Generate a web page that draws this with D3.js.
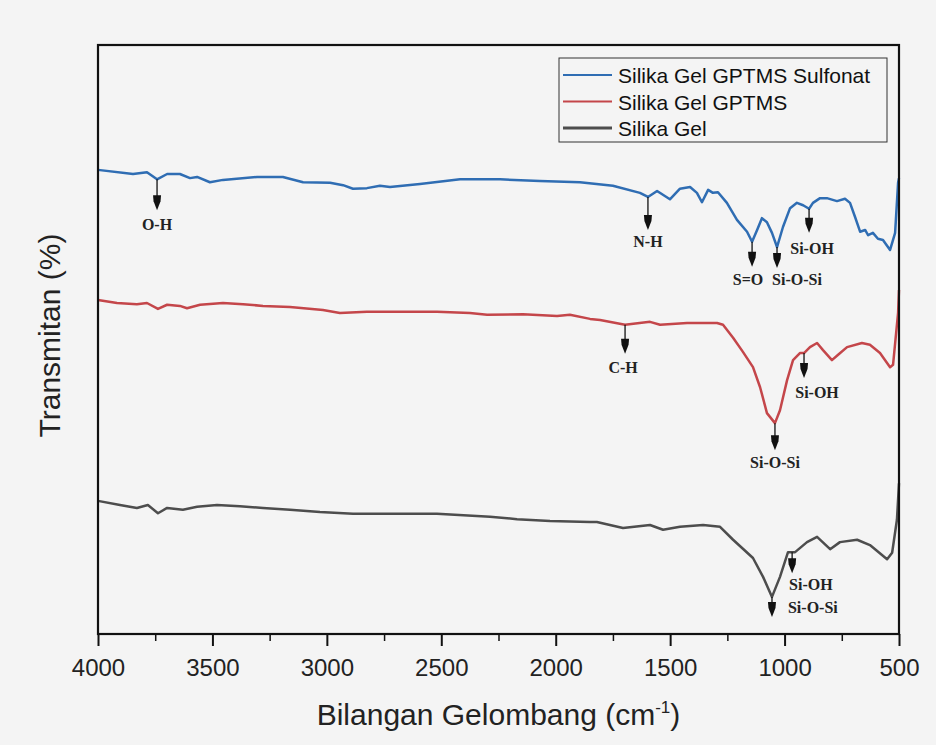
<!doctype html>
<html>
<head>
<meta charset="utf-8">
<style>
  body { margin: 0; background: #f4f4f4; }
  svg { display: block; }
  .tick text { font-family: "Liberation Sans", Arial, sans-serif; font-size: 24px; fill: #222; }
  .annot { font-family: "Liberation Serif", "Times New Roman", serif; font-weight: bold; font-size: 16px; fill: #222; }
</style>
<script src="https://d3js.org/d3.v7.min.js"></script>
</head>
<body>
<script>
// wavenumbers (cm-1) and transmittance readings (arbitrary offset units) for each spectrum
var sulfonatWn = [4000,3847,3786,3742,3698,3642,3598,3567,3511,3454,3305,3192,3104,2986,2929,2886,2825,2768,2724,2593,2418,2243,2069,1894,1750,1632,1597,1557,1501,1457,1413,1383,1361,1334,1313,1291,1252,1208,1164,1142,1120,1099,1077,1055,1033,1007,976,946,919,893,876,845,815,771,736,714,692,670,648,635,614,592,570,539,517,504,500];
var sulfonatT  = [78.8,78.1,78.4,77.2,78.1,78.1,77.4,77.6,76.7,77.1,77.6,77.6,76.7,76.6,76.2,75.6,75.7,76.1,75.9,76.4,77.2,77.2,76.9,76.7,76.1,74.9,74.2,75.2,73.8,75.6,75.9,74.9,73.3,75.4,74.9,75.0,73.2,70.3,68.3,66.6,68.6,70.6,69.9,68.1,65.7,69.1,72.3,73.2,72.8,72.2,73.2,74.0,74.0,73.5,73.9,73.2,70.8,68.3,68.6,67.7,68.1,67.1,66.9,65.2,68.1,76.6,77.4];

var gptmsWn = [4000,3917,3830,3786,3738,3698,3642,3611,3554,3454,3366,3279,3161,3017,2943,2825,2519,2375,2300,2143,1994,1938,1850,1806,1697,1588,1544,1426,1295,1269,1225,1182,1138,1107,1077,1042,1020,989,963,933,915,889,858,832,793,766,727,662,627,583,539,526,504,500];
var gptmsT  = [56.7,56.2,56.0,56.2,55.2,55.9,55.7,55.3,55.9,56.2,56.0,55.7,55.5,55.0,54.5,54.7,54.7,54.5,54.2,54.3,54.0,54.2,53.5,53.3,52.5,53.0,52.5,52.8,52.8,52.5,50.3,47.9,45.3,41.9,37.5,35.8,38.0,43.1,46.5,47.7,47.7,48.7,49.4,48.2,46.5,47.4,48.7,49.4,49.1,47.7,45.3,45.7,54.5,58.4];

var gelWn = [4000,3904,3830,3782,3738,3698,3629,3567,3480,3380,3279,3161,3030,2886,2519,2287,2169,2025,1850,1820,1706,1588,1531,1457,1356,1282,1225,1138,1094,1055,1020,985,954,902,858,801,758,683,627,552,530,509,500];
var gelT  = [22.6,21.9,21.4,21.9,20.5,21.4,21.1,21.6,21.9,21.7,21.4,21.1,20.7,20.4,20.4,19.9,19.5,19.2,19.0,19.0,18.0,18.5,17.7,18.2,18.5,18.2,16.0,12.9,9.7,6.3,9.7,13.9,13.9,15.6,16.5,14.4,15.6,16.0,15.1,12.7,13.8,19.4,25.6];

var seriesNames = ['Silika Gel GPTMS Sulfonat', 'Silika Gel GPTMS', 'Silika Gel'];
var seriesColors = ['#2f6db3', '#c4464a', '#4d4d4d'];

var xTicks = [4000, 3500, 3000, 2500, 2000, 1500, 1000, 500];

// peak labels: series index, label, wavenumber
var annotations = [
  {s: 0, label: 'O-H', wn: 3742},
  {s: 0, label: 'N-H', wn: 1597},
  {s: 0, label: 'S=O', wn: 1142},
  {s: 0, label: 'Si-O-Si', wn: 1033},
  {s: 0, label: 'Si-OH', wn: 893},
  {s: 1, label: 'C-H', wn: 1697},
  {s: 1, label: 'Si-O-Si', wn: 1042},
  {s: 1, label: 'Si-OH', wn: 915},
  {s: 2, label: 'Si-OH', wn: 967},
  {s: 2, label: 'Si-O-Si', wn: 1055}
];
// arrow length and label placement for each annotation (same order)
var annotLayout = [
  {len: 31, dx: 0, dy: 20, anchor: 'middle'},
  {len: 33, dx: 0, dy: 17, anchor: 'middle'},
  {len: 25, dx: -4, dy: 18, anchor: 'middle'},
  {len: 21, dx: 20, dy: 17, anchor: 'middle'},
  {len: 24, dx: 3, dy: 21, anchor: 'middle'},
  {len: 29, dx: -2, dy: 19, anchor: 'middle'},
  {len: 27, dx: 0, dy: 18, anchor: 'middle'},
  {len: 25, dx: 13, dy: 20, anchor: 'middle'},
  {len: 21, dx: -3, dy: 17, anchor: 'start'},
  {len: 20, dx: 16, dy: -4, anchor: 'start'}
];

var series = [
  sulfonatWn.map((w, i) => ({wn: w, t: sulfonatT[i]})),
  gptmsWn.map((w, i) => ({wn: w, t: gptmsT[i]})),
  gelWn.map((w, i) => ({wn: w, t: gelT[i]}))
];

var W = 936, H = 745;
var margin = {top: 45, right: 37, bottom: 111, left: 98};
var width = W - margin.left - margin.right;
var height = H - margin.top - margin.bottom;

var svg = d3.select('body').append('svg')
  .attr('width', W)
  .attr('height', H);

svg.append('rect').attr('width', W).attr('height', H).attr('fill', '#f4f4f4');

var g = svg.append('g')
  .attr('transform', `translate(${margin.left},${margin.top})`);

var x = d3.scaleLinear().domain([4000, 500]).range([0, width]);
var y = d3.scaleLinear().domain([0, 100]).range([height, 0]);

// minor ticks
g.append('g')
  .attr('transform', `translate(0,${height})`)
  .call(d3.axisBottom(x).tickValues(d3.range(3750, 500, -500)).tickSize(7).tickFormat(''))
  .call(a => a.select('.domain').remove())
  .selectAll('line').attr('stroke', '#111').attr('stroke-width', 1.5);

// major ticks
var xAxis = g.append('g')
  .attr('transform', `translate(0,${height})`)
  .call(d3.axisBottom(x).tickValues(xTicks).tickSize(12).tickPadding(13).tickFormat(d3.format('d')));
xAxis.select('.domain').remove();
xAxis.selectAll('line').attr('stroke', '#111').attr('stroke-width', 2);

var line = d3.line()
  .x(d => x(d.wn))
  .y(d => y(d.t));

g.selectAll('.spec')
  .data(series)
  .enter().append('path')
  .attr('class', 'spec')
  .attr('d', line)
  .attr('fill', 'none')
  .attr('stroke', (d, i) => seriesColors[i])
  .attr('stroke-width', 2.5)
  .attr('stroke-linejoin', 'round');

// frame
g.append('rect')
  .attr('width', width)
  .attr('height', height)
  .attr('fill', 'none')
  .attr('stroke', '#111')
  .attr('stroke-width', 2.2);

function valueAt(data, wn) {
  for (var i = 0; i < data.length - 1; i++) {
    var a = data[i], b = data[i + 1];
    if (wn <= a.wn && wn >= b.wn) {
      var f = (a.wn - wn) / (a.wn - b.wn);
      return a.t + f * (b.t - a.t);
    }
  }
  return data[data.length - 1].t;
}

// peak arrows
annotations.forEach(function(a, i) {
  var L = annotLayout[i];
  var px = x(a.wn);
  var py = y(valueAt(series[a.s], a.wn));
  var tip = py + L.len;
  g.append('line')
    .attr('x1', px).attr('x2', px)
    .attr('y1', py).attr('y2', tip - 12)
    .attr('stroke', '#111').attr('stroke-width', 1.3);
  g.append('path')
    .attr('d', `M${px - 4},${tip - 15}L${px + 4},${tip - 15}L${px + 3.5},${tip - 9}L${px},${tip}L${px - 3.5},${tip - 9}Z`)
    .attr('fill', '#111');
  g.append('text')
    .attr('class', 'annot')
    .attr('x', px + L.dx)
    .attr('y', tip + L.dy)
    .attr('text-anchor', L.anchor)
    .text(a.label);
});

// axis titles
var title = svg.append('text')
  .attr('x', margin.left + width / 2)
  .attr('y', 725)
  .attr('text-anchor', 'middle')
  .style('font-family', '"Liberation Sans", Arial, sans-serif')
  .style('font-size', '30px')
  .attr('fill', '#222');
title.append('tspan').text('Bilangan Gelombang (cm');
title.append('tspan').attr('dy', -12).style('font-size', '17px').text('-1');
title.append('tspan').attr('dy', 12).text(')');

svg.append('text')
  .attr('transform', `translate(60,${margin.top + height / 2 - 4}) rotate(-90)`)
  .attr('text-anchor', 'middle')
  .style('font-family', '"Liberation Sans", Arial, sans-serif')
  .style('font-size', '30px')
  .attr('fill', '#222')
  .text('Transmitan (%)');

// legend
var lg = svg.append('g').attr('transform', 'translate(559,58)');
lg.append('rect')
  .attr('width', 328)
  .attr('height', 84)
  .attr('fill', '#f4f4f4')
  .attr('stroke', '#333')
  .attr('stroke-width', 1);
var item = lg.selectAll('.item')
  .data(seriesNames)
  .enter().append('g')
  .attr('transform', (d, i) => `translate(0,${17 + i * 26.5})`);
item.append('line')
  .attr('x1', 4).attr('x2', 53)
  .attr('stroke', (d, i) => seriesColors[i])
  .attr('stroke-width', (d, i) => i === 2 ? 3 : 2.2);
item.append('text')
  .attr('x', 59)
  .attr('y', 8)
  .style('font-family', '"Liberation Sans", Arial, sans-serif')
  .style('font-size', '21px')
  .attr('fill', '#111')
  .text(d => d);
</script>
</body>
</html>
